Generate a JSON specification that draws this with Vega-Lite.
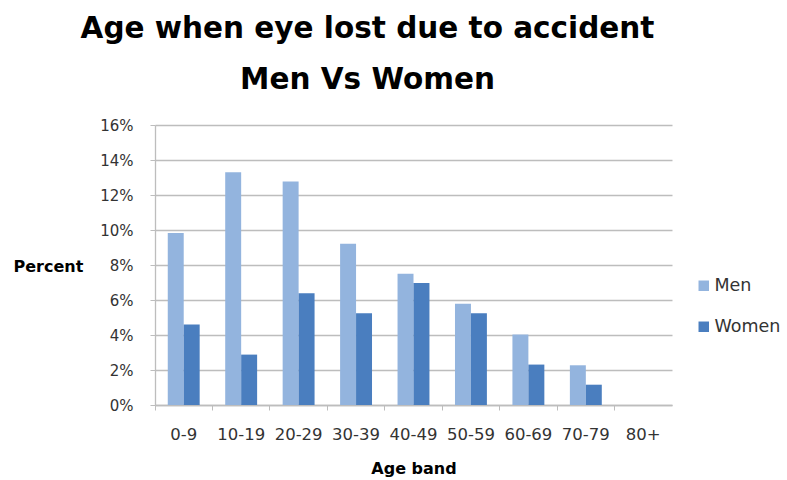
{
  "$schema": "https://vega.github.io/schema/vega-lite/v6.json",
  "width": 517,
  "height": 280,
  "autosize": {"type": "none"},
  "padding": {"left": 155, "top": 125, "right": 115, "bottom": 75},
  "background": "white",
  "title": {
    "text": ["Age when eye lost due to accident", "Men Vs Women"],
    "font": "DejaVu Sans",
    "fontSize": 29.5,
    "fontWeight": "bold",
    "color": "#000000",
    "lineHeight": 51,
    "offset": 23,
    "dx": -46,
    "anchor": "middle"
  },
  "data": {
    "values": [
      {"band": "0-9", "sex": "Men", "pct": 0.0983},
      {"band": "0-9", "sex": "Women", "pct": 0.046},
      {"band": "10-19", "sex": "Men", "pct": 0.133},
      {"band": "10-19", "sex": "Women", "pct": 0.0288},
      {"band": "20-29", "sex": "Men", "pct": 0.1277},
      {"band": "20-29", "sex": "Women", "pct": 0.0639},
      {"band": "30-39", "sex": "Men", "pct": 0.0922},
      {"band": "30-39", "sex": "Women", "pct": 0.0525},
      {"band": "40-49", "sex": "Men", "pct": 0.075},
      {"band": "40-49", "sex": "Women", "pct": 0.0697},
      {"band": "50-59", "sex": "Men", "pct": 0.0578},
      {"band": "50-59", "sex": "Women", "pct": 0.0525},
      {"band": "60-69", "sex": "Men", "pct": 0.0403},
      {"band": "60-69", "sex": "Women", "pct": 0.0231},
      {"band": "70-79", "sex": "Men", "pct": 0.0227},
      {"band": "70-79", "sex": "Women", "pct": 0.0116},
      {"band": "80+", "sex": "Men", "pct": 0},
      {"band": "80+", "sex": "Women", "pct": 0}
    ]
  },
  "mark": {"type": "bar"},
  "encoding": {
    "x": {
      "field": "band",
      "type": "nominal",
      "sort": null,
      "scale": {"paddingInner": 0, "paddingOuter": 0},
      "axis": {
        "title": "Age band",
        "titleFont": "DejaVu Sans",
        "titleFontSize": 16,
        "titleFontWeight": "bold",
        "titleColor": "#000000",
        "titlePadding": 18,
        "labelAngle": 0,
        "labelFont": "DejaVu Sans",
        "labelFontSize": 16.5,
        "labelColor": "#333333",
        "labelPadding": 16,
        "bandPosition": 0,
        "tickSize": 5,
        "tickColor": "#BDBDBD",
        "domainColor": "#BDBDBD",
        "domainWidth": 1.3,
        "grid": false
      }
    },
    "xOffset": {
      "field": "sex",
      "type": "nominal",
      "scale": {"paddingInner": 0, "paddingOuter": 0.8}
    },
    "y": {
      "field": "pct",
      "type": "quantitative",
      "scale": {"domain": [0, 0.16], "nice": false},
      "axis": {
        "title": "Percent",
        "titleAngle": 0,
        "titleAlign": "left",
        "titleBaseline": "middle",
        "titleX": -142,
        "titleY": 141.5,
        "titleFont": "DejaVu Sans",
        "titleFontSize": 16,
        "titleFontWeight": "bold",
        "titleColor": "#000000",
        "format": ".0%",
        "values": [0, 0.02, 0.04, 0.06, 0.08, 0.1, 0.12, 0.14, 0.16],
        "labelFont": "DejaVu Sans",
        "labelFontSize": 15,
        "labelColor": "#333333",
        "labelPadding": 17,
        "tickSize": 5,
        "tickColor": "#BDBDBD",
        "gridColor": "#BDBDBD",
        "gridWidth": 1.3,
        "domainColor": "#BDBDBD",
        "domainWidth": 1.3
      }
    },
    "color": {
      "field": "sex",
      "type": "nominal",
      "scale": {"domain": ["Men", "Women"], "range": ["#93B4DE", "#4A7EBF"]},
      "legend": {
        "title": null,
        "orient": "none",
        "legendX": 540,
        "legendY": 152,
        "symbolType": "square",
        "symbolSize": 110,
        "symbolStrokeWidth": 0,
        "labelFont": "DejaVu Sans",
        "labelFontSize": 17.5,
        "labelColor": "#333333",
        "rowPadding": 22,
        "labelOffset": 2
      }
    }
  },
  "config": {"view": {"stroke": null}}
}
